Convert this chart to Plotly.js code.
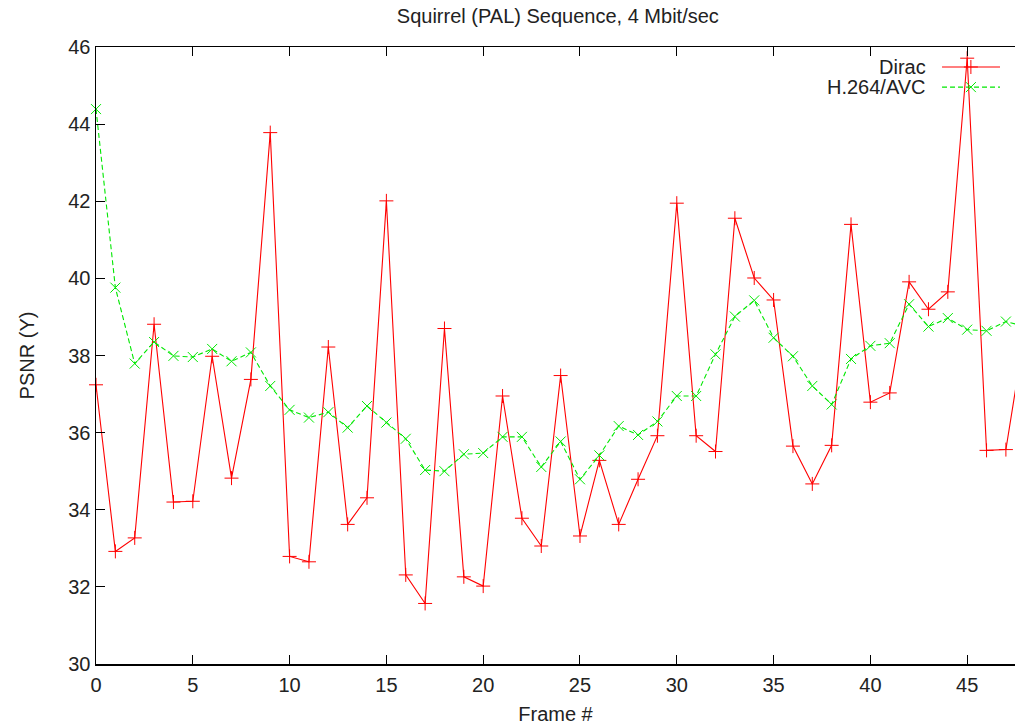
<!DOCTYPE html>
<html>
<head>
<meta charset="utf-8">
<script src="https://cdn.plot.ly/plotly-3.0.1.min.js"></script>
<style>html,body{margin:0;padding:0;background:#fff;}#chart{width:1015px;height:727px;}</style>
</head>
<body>
<div id="chart"></div>
<script>
const frames = [0,1,2,3,4,5,6,7,8,9,10,11,12,13,14,15,16,17,18,19,20,21,22,23,24,25,26,27,28,29,30,31,32,33,34,35,36,37,38,39,40,41,42,43,44,45,46,47,48];
const dirac = [37.24,32.92,33.27,38.81,34.2,34.22,37.98,34.82,37.38,43.78,32.79,32.65,38.22,33.62,34.31,42.01,32.31,31.57,38.7,32.26,32.02,36.95,33.78,33.06,37.48,33.32,35.28,33.62,34.79,35.92,41.95,35.92,35.51,41.56,40.01,39.44,35.65,34.67,35.67,41.4,36.79,37.03,39.91,39.2,39.65,45.71,35.54,35.56,38.7];
const h264 = [44.39,39.76,37.79,38.35,37.99,37.96,38.17,37.85,38.08,37.21,36.59,36.39,36.53,36.13,36.69,36.26,35.84,35.03,35.0,35.44,35.47,35.89,35.89,35.11,35.77,34.79,35.41,36.17,35.94,36.29,36.95,36.95,38.03,39.01,39.43,38.46,37.98,37.21,36.73,37.91,38.25,38.32,39.33,38.75,38.97,38.67,38.64,38.88,38.75];
const seriesNames = ["Dirac", "H.264/AVC"];
const xTicks = [0,5,10,15,20,25,30,35,40,45];
const yTicks = [30,32,34,36,38,40,42,44,46];

const RED = "#ff0000", GREEN = "#00e800";
const FONT = "Liberation Sans, Arial, sans-serif";

const traces = [
  {x: frames, y: dirac, type: "scatter", mode: "lines+markers", name: seriesNames[0],
   line: {color: RED, width: 1.1}, marker: {symbol: "cross-thin", size: 10, line: {color: RED, width: 1}},
   cliponaxis: false, showlegend: false},
  {x: frames, y: h264, type: "scatter", mode: "lines+markers", name: seriesNames[1],
   line: {color: GREEN, width: 1.1, dash: "5px,3px"}, marker: {symbol: "x-thin", size: 10, line: {color: GREEN, width: 1}},
   cliponaxis: false, showlegend: false},
  // legend samples on an overlay axis spanning the plot area
  {x: [0.9206, 0.9837], y: [0.9676, 0.9676], xaxis: "x2", yaxis: "y2", type: "scatter", mode: "lines",
   line: {color: RED, width: 1.1}, showlegend: false, hoverinfo: "skip"},
  {x: [0.952], y: [0.9676], xaxis: "x2", yaxis: "y2", type: "scatter", mode: "markers",
   marker: {symbol: "cross-thin", size: 10, line: {color: RED, width: 1}}, showlegend: false, hoverinfo: "skip", cliponaxis: false},
  {x: [0.9206, 0.9837], y: [0.935, 0.935], xaxis: "x2", yaxis: "y2", type: "scatter", mode: "lines",
   line: {color: GREEN, width: 1.1, dash: "5px,3px"}, showlegend: false, hoverinfo: "skip"},
  {x: [0.952], y: [0.935], xaxis: "x2", yaxis: "y2", type: "scatter", mode: "markers",
   marker: {symbol: "x-thin", size: 10, line: {color: GREEN, width: 1}}, showlegend: false, hoverinfo: "skip", cliponaxis: false}
];

const layout = {
  width: 1015, height: 727,
  margin: {l: 96, r: 0, t: 47, b: 63},
  paper_bgcolor: "#fff", plot_bgcolor: "#fff",
  font: {family: FONT, size: 20, color: "#222"},
  showlegend: false,
  title: {text: "Squirrel (PAL) Sequence, 4 Mbit/sec", x: 0.5496, xanchor: "center", y: 0.978, yanchor: "middle",
          font: {family: FONT, size: 20, color: "#222"}},
  xaxis: {range: [0, 47.47], tickvals: xTicks, ticktext: xTicks.map(String),
          ticks: "inside", ticklen: 9, tickwidth: 1, tickcolor: "#000",
          showline: true, linecolor: "#000", linewidth: 1.5, mirror: "ticks",
          showgrid: false, zeroline: false, ticklabelstandoff: 2,
          tickfont: {family: FONT, size: 20, color: "#222"},
          title: {text: "Frame #", font: {family: FONT, size: 20, color: "#222"}, standoff: 12}},
  yaxis: {range: [30, 46], tickvals: yTicks, ticktext: yTicks.map(String),
          ticks: "inside", ticklen: 9, tickwidth: 1, tickcolor: "#000",
          showline: true, linecolor: "#000", linewidth: 1.5, mirror: false,
          showgrid: false, zeroline: false,
          tickfont: {family: FONT, size: 20, color: "#222"},
          title: {text: "PSNR (Y)", font: {family: FONT, size: 20, color: "#222"}, standoff: 28}},
  xaxis2: {overlaying: "x", range: [0, 1], visible: false, fixedrange: true},
  yaxis2: {overlaying: "y", range: [0, 1], visible: false, fixedrange: true},
  annotations: [
    {xref: "paper", yref: "paper", x: 0.9053, y: 0.9676, xanchor: "right", yanchor: "middle",
     text: seriesNames[0], showarrow: false, font: {family: FONT, size: 20, color: "#222"}},
    {xref: "paper", yref: "paper", x: 0.9053, y: 0.935, xanchor: "right", yanchor: "middle",
     text: seriesNames[1], showarrow: false, font: {family: FONT, size: 20, color: "#222"}}
  ]
};

Plotly.newPlot("chart", traces, layout, {displayModeBar: false, staticPlot: true});
</script>
</body>
</html>
